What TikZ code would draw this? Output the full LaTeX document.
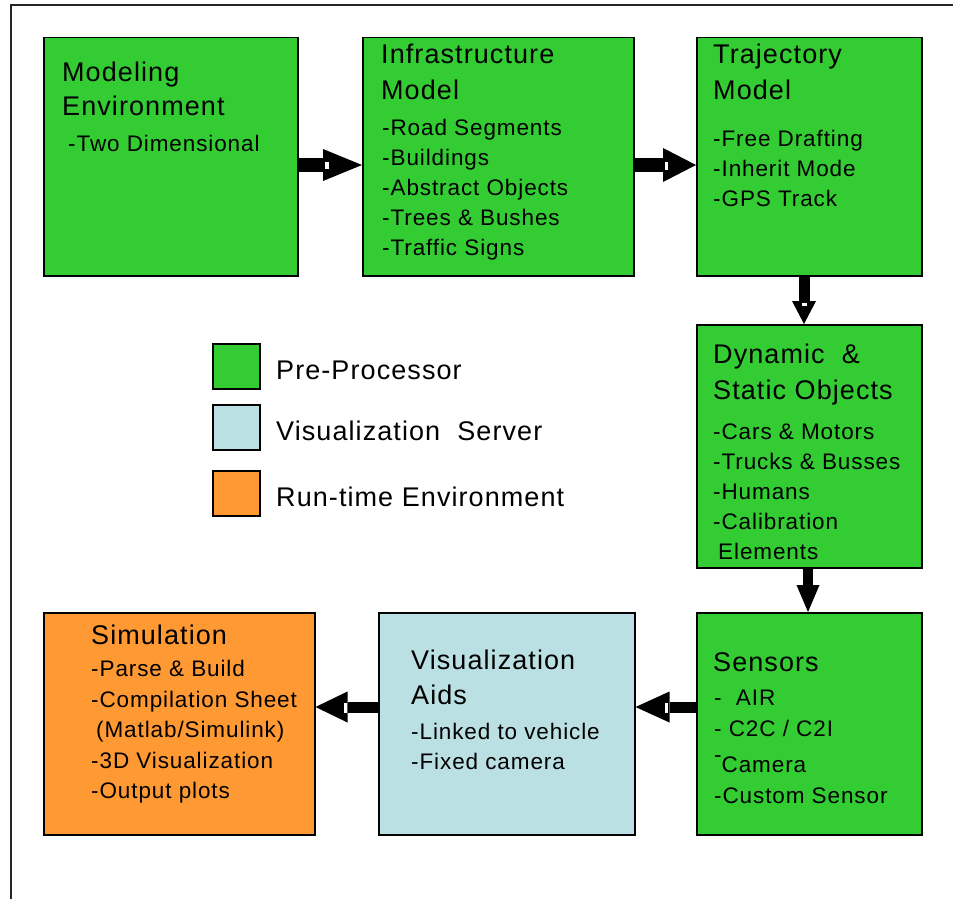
\documentclass[tikz,border=0pt]{standalone}
\usepackage{fontspec}
\setmainfont[LetterSpace=4]{Liberation Sans}
\usetikzlibrary{arrows.meta,calc}

\definecolor{ppgreen}{RGB}{51,204,51}
\definecolor{vsblue}{RGB}{187,224,227}
\definecolor{rtorange}{RGB}{255,153,51}

\tikzset{
  box/.style={draw=black, line width=1.5pt, anchor=north west, inner sep=0pt},
  legbox/.style={box, minimum width=47pt, minimum height=45pt},
  ttl/.style={anchor=west, inner sep=0pt, text height=19.5pt, text depth=0pt,
              font=\fontsize{27}{30}\selectfont},
  itm/.style={anchor=west, inner sep=0pt, text height=16pt, text depth=0pt,
              font=\fontsize{22.5}{26}\selectfont},
  blk/.style={line width=#1, draw=black},
  notch/.style={fill=white}
}

\begin{document}
\begin{tikzpicture}[x=1pt,y=-1pt]
\useasboundingbox (0,0) rectangle (953,899);

% outer frame
\draw[line width=1.5pt, black!85] (11,899) -- (11,5) -- (953,5);

% process boxes
\node[box, fill=ppgreen, minimum width=254pt, minimum height=238pt] (modenv) at (43,37) {};
\node[box, fill=ppgreen, minimum width=271pt, minimum height=238pt] (infra) at (362,37) {};
\node[box, fill=ppgreen, minimum width=225pt, minimum height=238pt] (traj) at (696,37) {};
\node[box, fill=ppgreen, minimum width=225pt, minimum height=243pt] (dyn) at (696,324) {};
\node[box, fill=ppgreen, minimum width=225pt, minimum height=222pt] (sens) at (696,612) {};
\node[box, fill=vsblue, minimum width=256pt, minimum height=222pt] (vis) at (378,612) {};
\node[box, fill=rtorange, minimum width=271pt, minimum height=222pt] (sim) at (43,612) {};

% legend
\node[legbox, fill=ppgreen] (lg1) at (212,343) {};
\node[legbox, fill=vsblue] (lg2) at (212,404) {};
\node[legbox, fill=rtorange] (lg3) at (212,470) {};
\node[ttl] (lt1) at (276,370) {Pre-Processor};
\node[ttl] (lt2) at (276,431) {Visualization\ \ Server};
\node[ttl] (lt3) at (276,497) {Run-time Environment};

% Modeling Environment
\node[ttl] (me1) at (62,72) {Modeling};
\node[ttl] (me2) at (62,106) {Environment};
\node[itm] (me3) at (68,143) {-Two Dimensional};

% Infrastructure Model
\node[ttl] (im1) at (381,54) {Infrastructure};
\node[ttl] (im2) at (381,90) {Model};
\node[itm] (im3) at (382,127) {-Road Segments};
\node[itm] (im4) at (382,157) {-Buildings};
\node[itm] (im5) at (382,187) {-Abstract Objects};
\node[itm] (im6) at (382,217) {-Trees \& Bushes};
\node[itm] (im7) at (382,247) {-Traffic Signs};

% Trajectory Model
\node[ttl] (tm1) at (713,54) {Trajectory};
\node[ttl] (tm2) at (713,90) {Model};
\node[itm] (tm3) at (713,138) {-Free Drafting};
\node[itm] (tm4) at (713,168) {-Inherit Mode};
\node[itm] (tm5) at (713,198) {-GPS Track};

% Dynamic & Static Objects
\node[ttl] (do1) at (713,354) {Dynamic\ \ \&};
\node[ttl] (do2) at (713,390) {Static Objects};
\node[itm] (do3) at (713,431) {-Cars \& Motors};
\node[itm] (do4) at (713,461) {-Trucks \& Busses};
\node[itm] (do5) at (713,491) {-Humans};
\node[itm] (do6) at (713,521) {-Calibration};
\node[itm] (do7) at (718,551) {Elements};

% Sensors
\node[ttl] (se1) at (713,662) {Sensors};
\node[itm] (se2) at (714,697) {-\ \ AIR};
\node[itm] (se3) at (714,728) {- C2C / C2I};
\node[itm] (se4) at (714,764) {\raisebox{0.42em}{-}Camera};
\node[itm] (se5) at (714,795) {-Custom Sensor};

% Visualization Aids
\node[ttl] (va1) at (411,660) {Visualization};
\node[ttl] (va2) at (411,695) {Aids};
\node[itm] (va3) at (411,731) {-Linked to vehicle};
\node[itm] (va4) at (411,761) {-Fixed camera};

% Simulation
\node[ttl] (si1) at (91,635) {Simulation};
\node[itm] (si2) at (91,668) {-Parse \& Build};
\node[itm] (si3) at (91,699) {-Compilation Sheet};
\node[itm] (si4) at (96,729) {(Matlab/Simulink)};
\node[itm] (si5) at (91,760) {-3D Visualization};
\node[itm] (si6) at (91,790) {-Output plots};

% block arrows between the stages
\coordinate (ytop) at (0,165);
\coordinate (ybot) at (0,707);
\coordinate (xa) at (804,0);
\coordinate (xb) at (808,0);

\draw[blk=14pt, -{Triangle[width=32pt,length=39pt,line width=0pt]}] (modenv.east |- ytop) -- (infra.west |- ytop);
\fill[notch] ($(infra.west |- ytop)+(-37,-3)$) rectangle ++(4,7);

\draw[blk=14pt, -{Triangle[width=34pt,length=33pt,line width=0pt]}] (infra.east |- ytop) -- (traj.west |- ytop);
\fill[notch] ($(traj.west |- ytop)+(-31,-3)$) rectangle ++(3,8);

\draw[blk=11pt, -{Triangle[width=24pt,length=23pt,line width=0pt]}] (traj.south -| xa) -- (dyn.north -| xa);
\fill[notch] ($(dyn.north -| xa)+(-2,-21)$) rectangle ++(5,3);

\draw[blk=10pt, -{Triangle[width=23pt,length=27pt,line width=0pt]}] (dyn.south -| xb) -- (sens.north -| xb);

\draw[blk=11pt, -{Triangle[width=31pt,length=34pt,line width=0pt]}] (sens.west |- ybot) -- (vis.east |- ybot);
\fill[notch] ($(vis.east |- ybot)+(29,-4)$) rectangle ++(3,10);

\draw[blk=11pt, -{Triangle[width=31pt,length=32pt,line width=0pt]}] (vis.west |- ybot) -- (sim.east |- ybot);
\fill[notch] ($(sim.east |- ybot)+(28,-4)$) rectangle ++(3,10);

\end{tikzpicture}
\end{document}
